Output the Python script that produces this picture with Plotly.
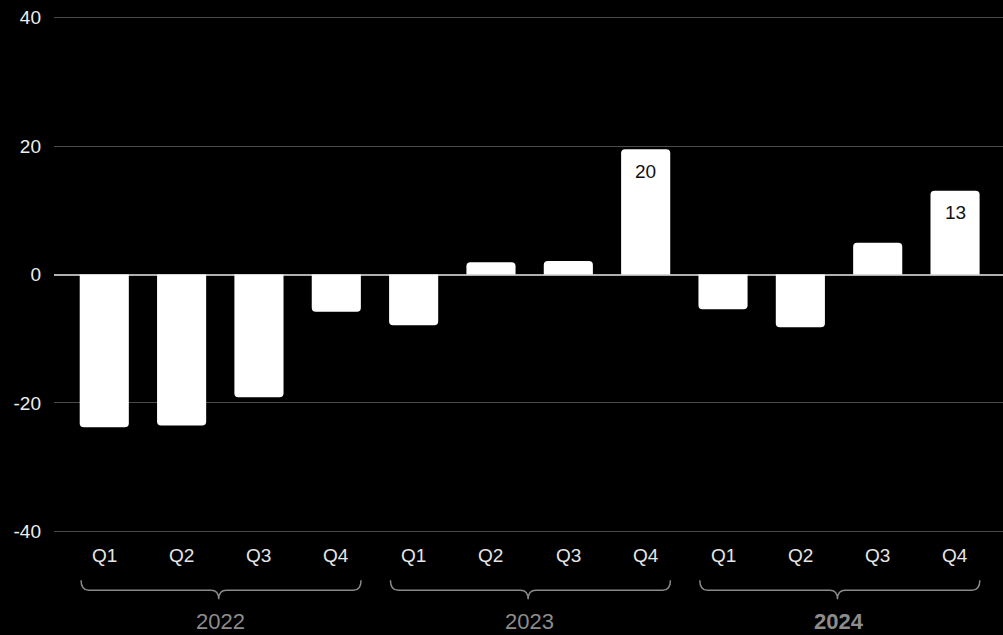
import plotly.graph_objects as go

quarters = ["Q1", "Q2", "Q3", "Q4"] * 3
years = ["2022", "2023", "2024"]
values = [-23.8, -23.5, -19.1, -5.8, -7.9, 1.9, 2.1, 19.5, -5.4, -8.2, 4.95, 13.05]
bar_labels = [None, None, None, None, None, None, None, "20", None, None, None, "13"]
y_ticks = [-40, -20, 0, 20, 40]
y_tick_text = ["-40", "-20", "0", "20", "40"]

x_idx = list(range(len(values)))
FONT = "Liberation Sans, Arial, Helvetica, sans-serif"

fig = go.Figure()
fig.add_trace(go.Bar(
    x=x_idx, y=values, width=0.635,
    marker=dict(color="white", line=dict(width=0), cornerradius=4),
    hoverinfo="skip", showlegend=False,
))

annotations = []
for i, lab in enumerate(bar_labels):
    if lab is not None:
        annotations.append(dict(x=x_idx[i], y=values[i], xref="x", yref="y", text=lab,
                                showarrow=False, yanchor="middle", yshift=-22,
                                font=dict(family=FONT, size=19, color="#111")))
for i, q in enumerate(quarters):
    annotations.append(dict(x=x_idx[i], y=0, xref="x", yref="paper", text=q,
                            showarrow=False, yanchor="middle", yshift=-22,
                            font=dict(family=FONT, size=19, color="#e6e6e6")))

shapes = []
h = 515.0
bottom_px = 532.0
def py(px):
    return -(px - bottom_px) / h

y_top, y_line, y_tip = py(579), py(589), py(598)
r = 0.1
for g, yr in enumerate(years):
    first, last = 4 * g, 4 * g + 3
    x0, x1 = first - 0.3, last + 0.32
    xm = (first + last) / 2 - 0.02
    path = (f"M {x0},{y_top} Q {x0},{y_line} {x0 + r},{y_line} "
            f"L {xm - r},{y_line} Q {xm},{y_line} {xm},{y_tip} "
            f"Q {xm},{y_line} {xm + r},{y_line} "
            f"L {x1 - r},{y_line} Q {x1},{y_line} {x1},{y_top}")
    shapes.append(dict(type="path", path=path, xref="x", yref="paper",
                       line=dict(color="#8a8a8a", width=1.5)))
    txt = f"<b>{yr}</b>" if yr == "2024" else yr
    annotations.append(dict(x=xm + 0.02, y=0, xref="x", yref="paper", text=txt,
                            showarrow=False, yanchor="middle", yshift=-(620.5 - bottom_px),
                            font=dict(family=FONT, size=22, color="#8c8c8c")))

fig.update_layout(
    width=1003, height=635,
    paper_bgcolor="black", plot_bgcolor="black",
    margin=dict(l=54, r=0, t=16, b=102),
    font=dict(family=FONT),
    xaxis=dict(range=[-0.65, 11.62], showticklabels=False, showgrid=False,
               zeroline=False, showline=False, ticks=""),
    yaxis=dict(range=[-40.25, 40.25], tickvals=y_ticks, ticktext=y_tick_text, ticks="",
               tickfont=dict(family=FONT, size=19, color="#eeeeee"),
               gridcolor="#4a4a4a", gridwidth=1,
               zeroline=True, zerolinecolor="#b0b0b0", zerolinewidth=2,
               showline=False, ticklabelstandoff=12),
    shapes=shapes,
    annotations=annotations,
    bargap=0.3,
)

fig.write_html("out.html", config={"displayModeBar": False},
               post_script="document.body.style.margin='0';document.body.style.background='black';")
